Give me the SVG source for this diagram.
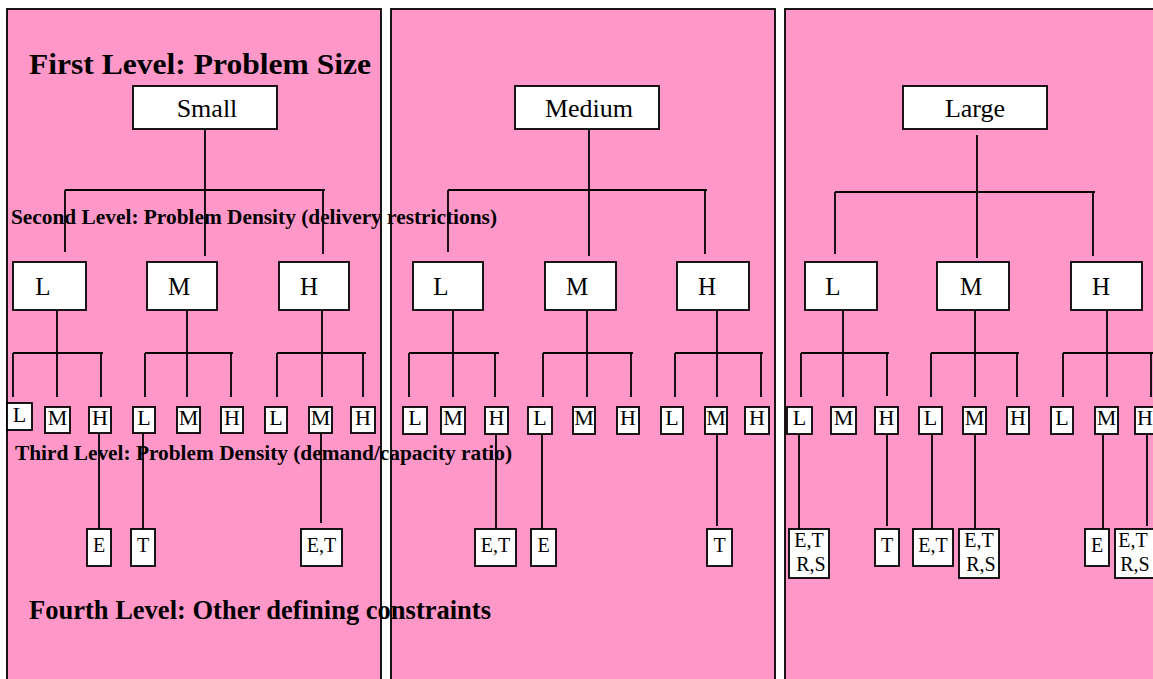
<svg xmlns="http://www.w3.org/2000/svg" width="1153" height="679" viewBox="0 0 1153 679">
<style>
.panel{fill:#FF97C9;stroke:#000;stroke-width:1.8}
.box{fill:#fff;stroke:#000;stroke-width:1.8}
.ln{stroke:#000;stroke-width:1.8;fill:none}
text{font-family:"Liberation Serif","Times New Roman",serif;fill:#000}
.t1{font-size:26px;text-anchor:middle}
.t2{font-size:25px;text-anchor:middle}
.t3{font-size:22px;text-anchor:middle}
.t4{font-size:20px;text-anchor:middle}
.lab{font-weight:bold}
</style>
<rect width="1153" height="679" fill="#fff"/>
<g id="panels">
<rect id="panel-small" class="panel" x="7" y="9" width="374" height="690"/>
<rect id="panel-medium" class="panel" x="391" y="9" width="384" height="690"/>
<rect id="panel-large" class="panel" x="785" y="9" width="390" height="690"/>
</g>
<g id="labels" class="lab">
<text x="29" y="74" font-size="29" textLength="342" lengthAdjust="spacingAndGlyphs">First Level: Problem Size</text>
<text x="11" y="224" font-size="20" textLength="486" lengthAdjust="spacingAndGlyphs">Second Level: Problem Density (delivery restrictions)</text>
<text x="15" y="460" font-size="20" textLength="497" lengthAdjust="spacingAndGlyphs">Third Level: Problem Density (demand/capacity ratio)</text>
<text x="29" y="619" font-size="26.5" textLength="462" lengthAdjust="spacingAndGlyphs">Fourth Level: Other defining constraints</text>
</g>
<g id="connectors" class="ln">
<path d="M205,129V190M65,190H325M65,190V252M205,190V256M323,190V254"/>
<path d="M57,310V353M13,353H103M13,353V397M57,353V397M101,353V397"/>
<path d="M187,310V353M145,353H233M145,353V397M187,353V397M231,353V397"/>
<path d="M322,310V353M277,353H366M277,353V397M322,353V397M363,353V397"/>
<path d="M99,433V529M143,433V529M321,433V523"/>
<path d="M589,129V190M448,190H707M448,190V252M589,190V256M705,190V254"/>
<path d="M453,310V353M409,353H499M409,353V397M453,353V397M495,353V397"/>
<path d="M587,310V353M543,353H633M543,353V397M587,353V397M631,353V397"/>
<path d="M717,310V353M675,353H763M675,353V397M717,353V397M761,353V397"/>
<path d="M496,434V529M542,434V529M717,434V526"/>
<path d="M977,135V192M835,192H1095M835,192V254M977,192V258M1093,192V256"/>
<path d="M843,310V353M801,353H889M801,353V397M843,353V397M887,353V396"/>
<path d="M975,310V353M931,353H1019M931,353V397M975,353V397M1017,353V397"/>
<path d="M1107,310V353M1063,353H1160M1063,353V397M1107,353V397M1151,353V397"/>
<path d="M799,434V529M887,434V526M932,434V529M975,434V529M1103,434V529M1147,434V526"/>
</g>
<g id="n-small"><rect class="box" x="133" y="86" width="144" height="43"/><text class="t1" x="207" y="117">Small</text></g>
<g id="n-medium"><rect class="box" x="515" y="86" width="144" height="43"/><text class="t1" x="589" y="117">Medium</text></g>
<g id="n-large"><rect class="box" x="903" y="86" width="144" height="43"/><text class="t1" x="975" y="117">Large</text></g>
<g id="n-s-L"><rect class="box" x="13" y="262" width="73" height="48"/><text class="t2" x="43" y="295">L</text></g>
<g id="n-s-M"><rect class="box" x="147" y="262" width="70" height="48"/><text class="t2" x="179" y="295">M</text></g>
<g id="n-s-H"><rect class="box" x="279" y="262" width="70" height="48"/><text class="t2" x="309" y="295">H</text></g>
<g id="n-m-L"><rect class="box" x="413" y="262" width="70" height="48"/><text class="t2" x="441" y="295">L</text></g>
<g id="n-m-M"><rect class="box" x="545" y="262" width="71" height="48"/><text class="t2" x="577" y="295">M</text></g>
<g id="n-m-H"><rect class="box" x="677" y="262" width="72" height="48"/><text class="t2" x="707" y="295">H</text></g>
<g id="n-l-L"><rect class="box" x="805" y="262" width="72" height="48"/><text class="t2" x="833" y="295">L</text></g>
<g id="n-l-M"><rect class="box" x="937" y="262" width="72" height="48"/><text class="t2" x="971" y="295">M</text></g>
<g id="n-l-H"><rect class="box" x="1071" y="262" width="71" height="48"/><text class="t2" x="1101" y="295">H</text></g>
<g id="n-s-L-L"><rect class="box" x="7" y="403" width="25" height="27"/><text class="t3" x="19.5" y="422">L</text></g>
<g id="n-s-L-M"><rect class="box" x="45" y="407" width="25" height="26"/><text class="t3" x="57.5" y="425">M</text></g>
<g id="n-s-L-H"><rect class="box" x="89" y="407" width="22" height="26"/><text class="t3" x="100" y="425">H</text></g>
<g id="n-s-M-L"><rect class="box" x="133" y="407" width="22" height="26"/><text class="t3" x="144" y="425">L</text></g>
<g id="n-s-M-M"><rect class="box" x="177" y="407" width="23" height="26"/><text class="t3" x="188.5" y="425">M</text></g>
<g id="n-s-M-H"><rect class="box" x="221" y="407" width="22" height="26"/><text class="t3" x="232" y="425">H</text></g>
<g id="n-s-H-L"><rect class="box" x="265" y="407" width="22" height="26"/><text class="t3" x="276" y="425">L</text></g>
<g id="n-s-H-M"><rect class="box" x="309" y="407" width="23" height="26"/><text class="t3" x="320.5" y="425">M</text></g>
<g id="n-s-H-H"><rect class="box" x="351" y="407" width="24" height="26"/><text class="t3" x="363" y="425">H</text></g>
<g id="n-m-L-L"><rect class="box" x="403" y="407" width="24" height="27"/><text class="t3" x="415" y="425">L</text></g>
<g id="n-m-L-M"><rect class="box" x="441" y="407" width="24" height="27"/><text class="t3" x="453" y="425">M</text></g>
<g id="n-m-L-H"><rect class="box" x="485" y="407" width="23" height="27"/><text class="t3" x="496.5" y="425">H</text></g>
<g id="n-m-M-L"><rect class="box" x="528" y="407" width="24" height="27"/><text class="t3" x="540" y="425">L</text></g>
<g id="n-m-M-M"><rect class="box" x="573" y="407" width="22" height="27"/><text class="t3" x="584" y="425">M</text></g>
<g id="n-m-M-H"><rect class="box" x="617" y="407" width="22" height="27"/><text class="t3" x="628" y="425">H</text></g>
<g id="n-m-H-L"><rect class="box" x="661" y="407" width="22" height="27"/><text class="t3" x="672" y="425">L</text></g>
<g id="n-m-H-M"><rect class="box" x="705" y="407" width="22" height="27"/><text class="t3" x="716" y="425">M</text></g>
<g id="n-m-H-H"><rect class="box" x="745" y="407" width="24" height="27"/><text class="t3" x="757" y="425">H</text></g>
<g id="n-l-L-L"><rect class="box" x="787" y="407" width="25" height="27"/><text class="t3" x="799.5" y="425">L</text></g>
<g id="n-l-L-M"><rect class="box" x="831" y="407" width="25" height="27"/><text class="t3" x="843.5" y="425">M</text></g>
<g id="n-l-L-H"><rect class="box" x="875" y="407" width="23" height="27"/><text class="t3" x="886.5" y="425">H</text></g>
<g id="n-l-M-L"><rect class="box" x="919" y="407" width="23" height="27"/><text class="t3" x="930.5" y="425">L</text></g>
<g id="n-l-M-M"><rect class="box" x="963" y="407" width="23" height="27"/><text class="t3" x="974.5" y="425">M</text></g>
<g id="n-l-M-H"><rect class="box" x="1007" y="407" width="22" height="27"/><text class="t3" x="1018" y="425">H</text></g>
<g id="n-l-H-L"><rect class="box" x="1051" y="407" width="22" height="27"/><text class="t3" x="1062" y="425">L</text></g>
<g id="n-l-H-M"><rect class="box" x="1095" y="407" width="23" height="27"/><text class="t3" x="1106.5" y="425">M</text></g>
<g id="n-l-H-H"><rect class="box" x="1135" y="407" width="25" height="27"/><text class="t3" x="1145" y="425">H</text></g>
<g id="n-s-E"><rect class="box" x="87" y="529" width="24" height="37"/><text class="t4" x="99" y="552">E</text></g>
<g id="n-s-T"><rect class="box" x="131" y="529" width="24" height="37"/><text class="t4" x="143" y="552">T</text></g>
<g id="n-s-ET"><rect class="box" x="301" y="529" width="41" height="37"/><text class="t4" x="321.5" y="552">E,T</text></g>
<g id="n-m-ET"><rect class="box" x="475" y="529" width="41" height="37"/><text class="t4" x="495.5" y="552">E,T</text></g>
<g id="n-m-E"><rect class="box" x="531" y="529" width="25" height="37"/><text class="t4" x="543.5" y="552">E</text></g>
<g id="n-m-T"><rect class="box" x="707" y="529" width="25" height="37"/><text class="t4" x="719.5" y="552">T</text></g>
<g id="n-l-ETRS1"><rect class="box" x="789" y="529" width="40" height="49"/><text class="t4" x="809" y="547">E,T</text><text class="t4" x="811" y="571">R,S</text></g>
<g id="n-l-T"><rect class="box" x="875" y="529" width="24" height="37"/><text class="t4" x="887" y="552">T</text></g>
<g id="n-l-ET"><rect class="box" x="913" y="529" width="40" height="37"/><text class="t4" x="933" y="552">E,T</text></g>
<g id="n-l-ETRS2"><rect class="box" x="959" y="529" width="40" height="49"/><text class="t4" x="979" y="547">E,T</text><text class="t4" x="981" y="571">R,S</text></g>
<g id="n-l-E"><rect class="box" x="1085" y="529" width="24" height="37"/><text class="t4" x="1097" y="552">E</text></g>
<g id="n-l-ETRS3"><rect class="box" x="1115" y="529" width="45" height="49"/><text class="t4" x="1133" y="547">E,T</text><text class="t4" x="1135" y="571">R,S</text></g>
</svg>
